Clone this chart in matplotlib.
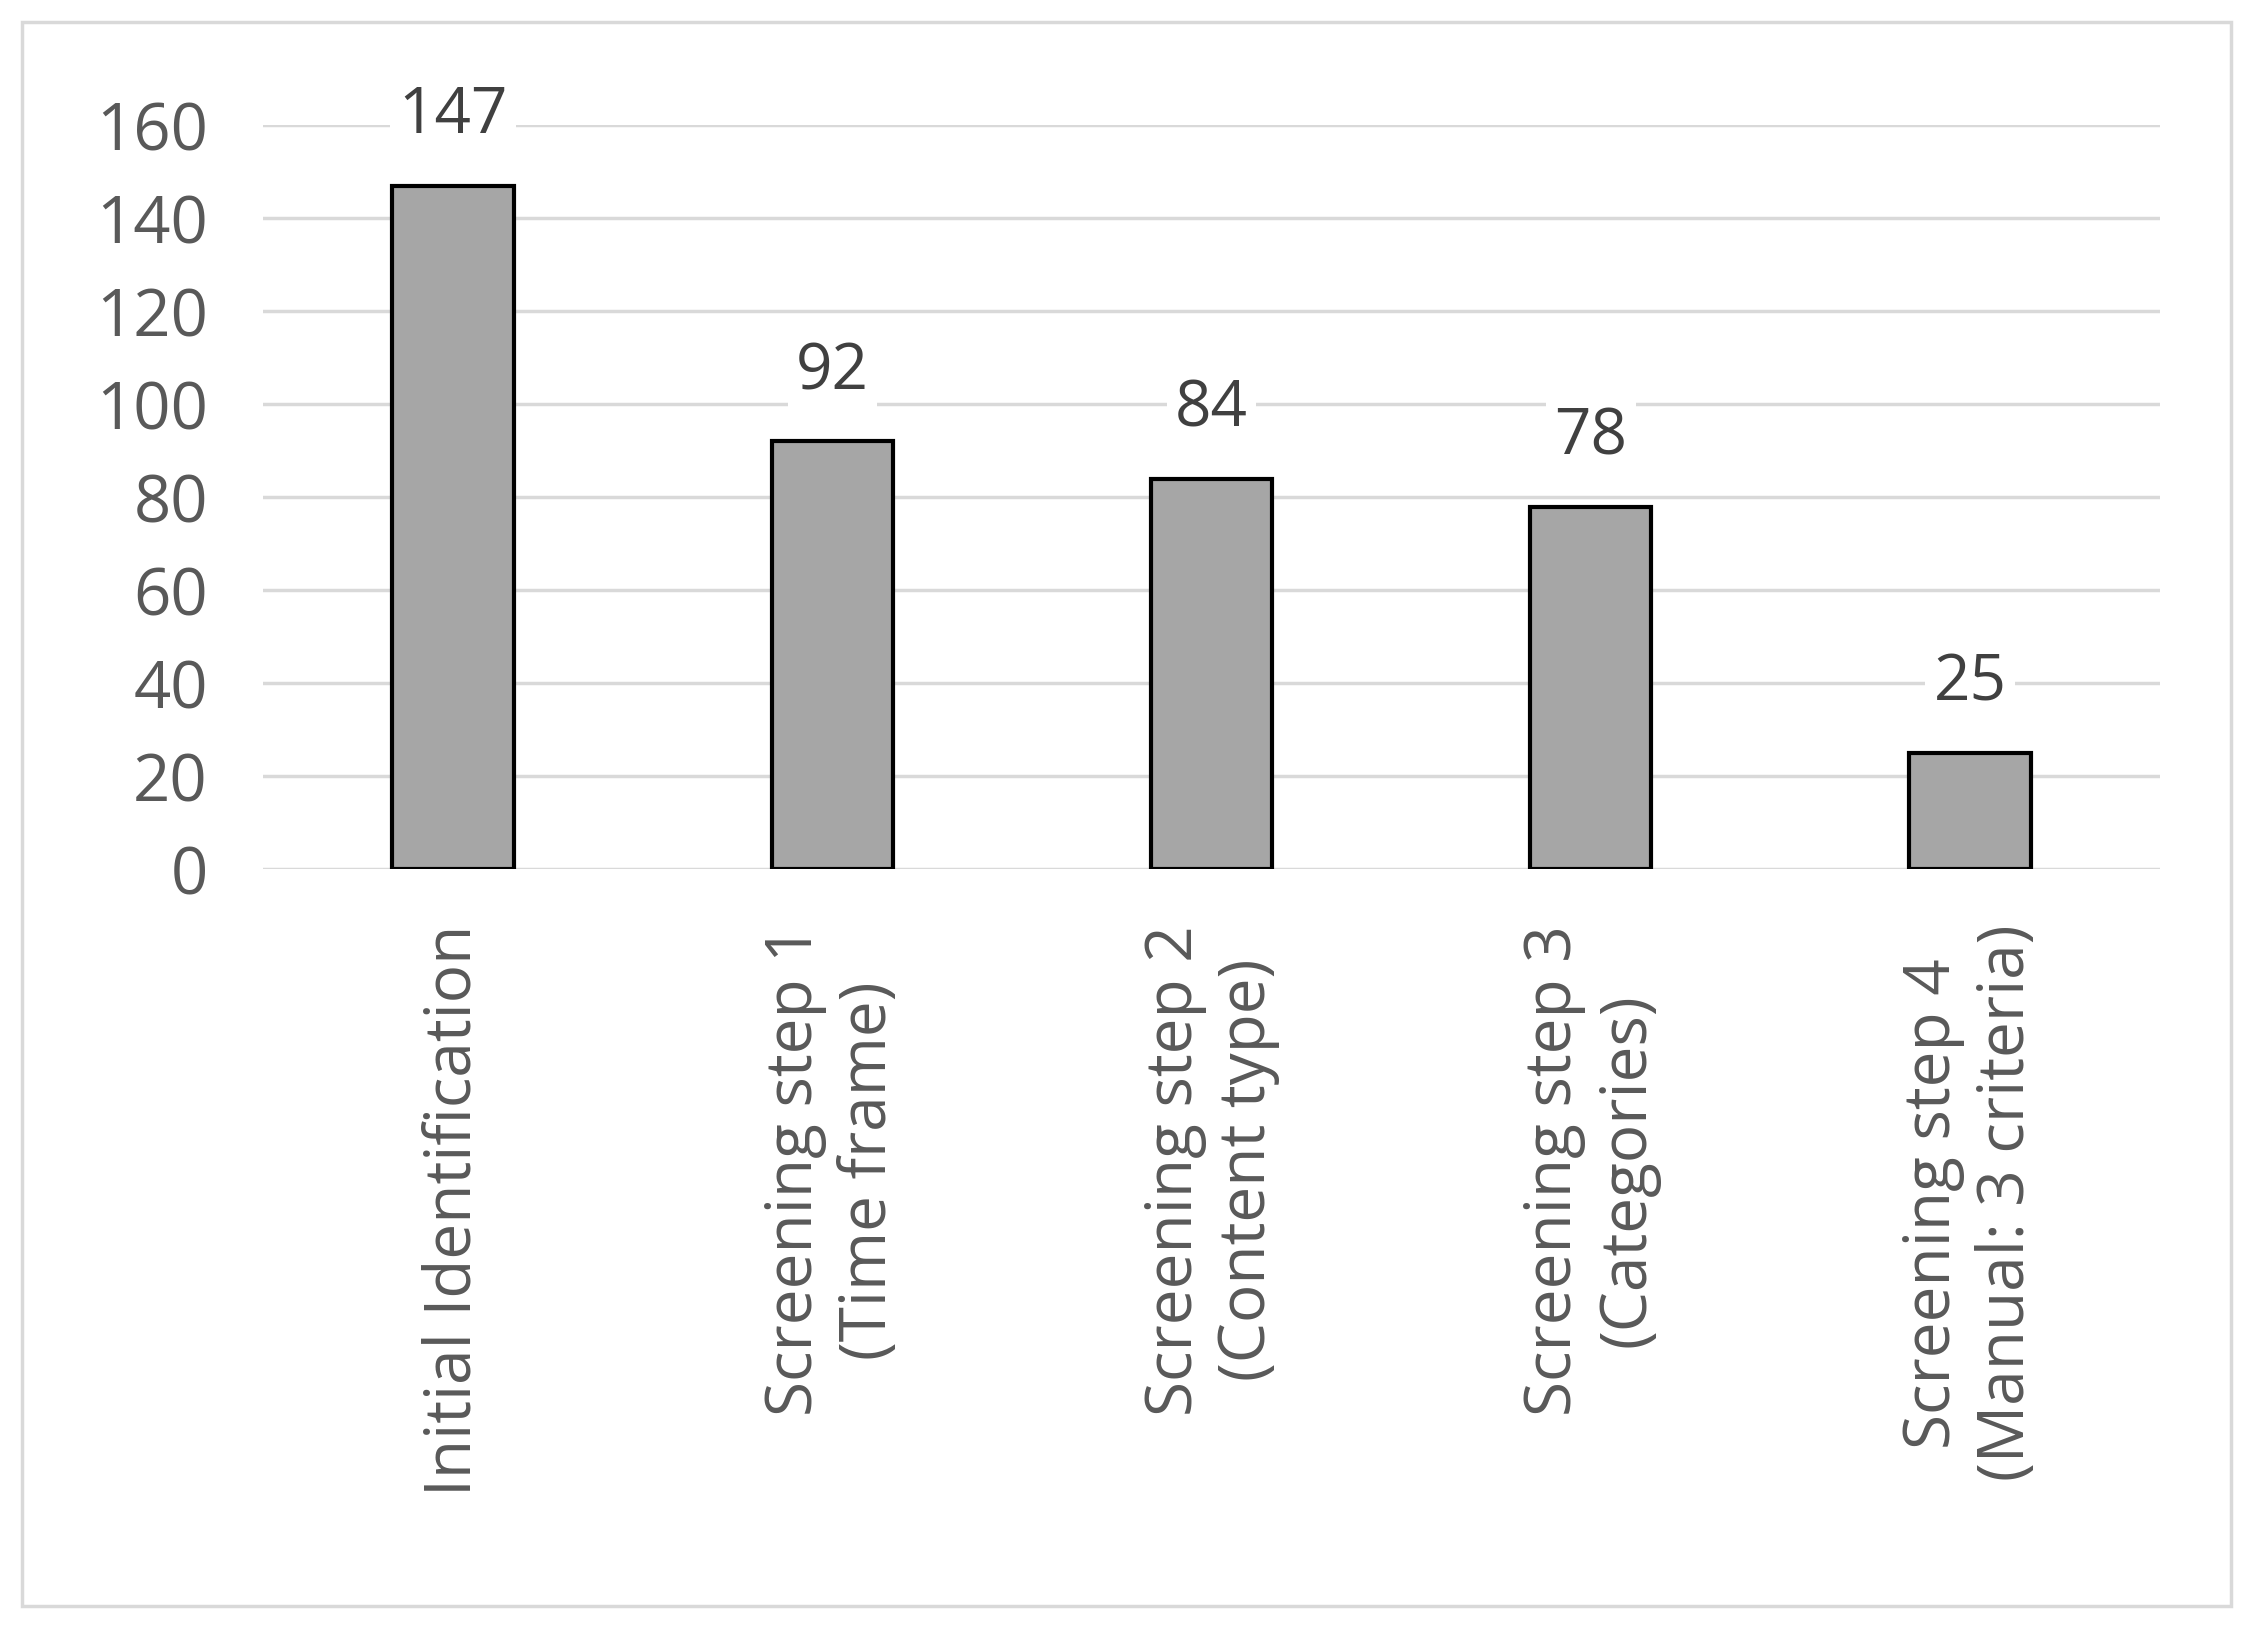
import matplotlib
matplotlib.use("Agg")
import matplotlib.pyplot as plt
from matplotlib.patches import Rectangle

# data
categories = ["Initial Identification",
              "Screening step 1\n(Time frame)",
              "Screening step 2\n(Content type)",
              "Screening step 3\n(Categories)",
              "Screening step 4\n(Manual: 3 criteria)"]
counts = [147, 92, 84, 78, 25]
y_ticks = [0, 20, 40, 60, 80, 100, 120, 140, 160]

plt.rcParams['font.family'] = ['Open Sans', 'DejaVu Sans']
text_color = "#595959"

fig = plt.figure(figsize=(22.52, 16.25), dpi=100)
ax = fig.add_axes([0.117, 0.465, 0.842, 0.458])

# outer border like a spreadsheet chart frame
fig.patches.append(Rectangle((0.0096, 0.0115), 0.981, 0.975, transform=fig.transFigure,
                             fill=False, edgecolor="#d9d9d9", linewidth=2.5))

x = range(len(categories))
ax.bar(x, counts, width=0.32, color="#a6a6a6", edgecolor="black", linewidth=3, zorder=3)
for xi, v in zip(x, counts):
    ax.text(xi, v + 8, str(v), ha="center", va="bottom", fontsize=46, color="#404040",
            bbox=dict(facecolor="white", edgecolor="none", pad=6), zorder=4)

ax.set_xlim(-0.5, len(categories) - 0.5)
ax.set_ylim(0, 160)
ax.set_yticks(y_ticks)
ax.yaxis.grid(True, color="#d9d9d9", linewidth=2.5, zorder=0)
ax.set_xticks(list(x))
ax.set_xticklabels(categories, rotation=90, fontsize=46, color=text_color,
                   linespacing=1.2)
ax.tick_params(axis="y", labelsize=47, labelcolor=text_color, length=0, pad=40)
ax.tick_params(axis="x", length=0, pad=40)
for s in ax.spines.values():
    s.set_visible(False)

fig.savefig("out.png", dpi=100)
